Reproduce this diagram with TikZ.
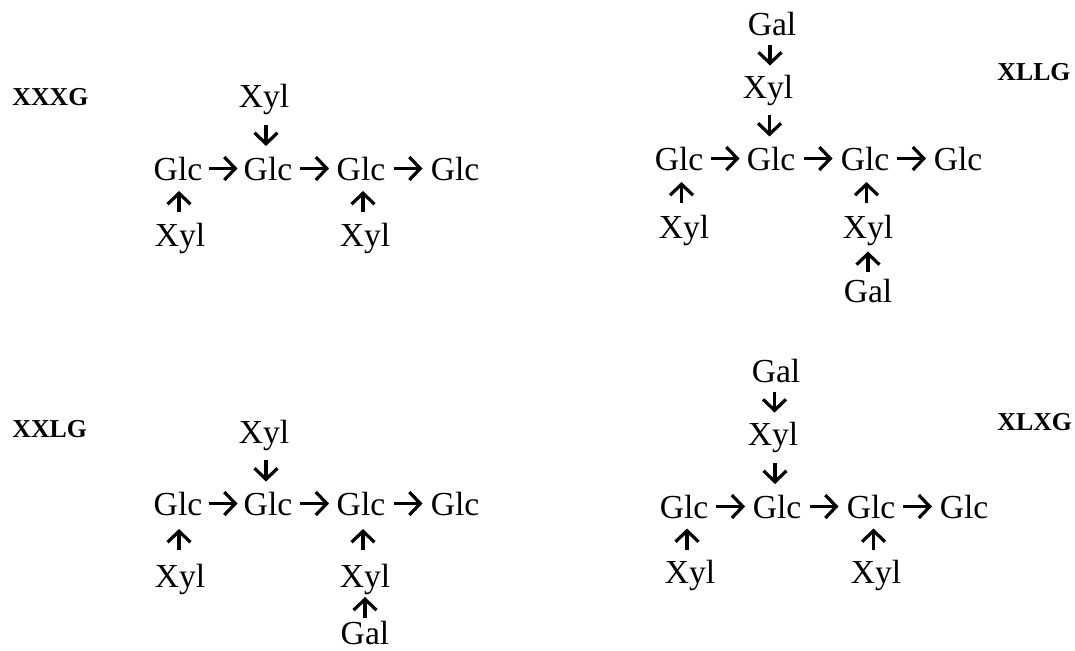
\documentclass[tikz,border=0pt]{standalone}
\usepackage{fontspec}
\setmainfont{Liberation Serif}
\usetikzlibrary{arrows.meta,calc}
\newcommand\hconn[2]{\draw[arr] ($(#1.east)!0.5!(#2.west)$) ++(-14.5,0) -- ++(29,0);}
\newcommand\dconn[2]{\draw[arr] ($(#1.south)!0.5!(#2.north)$) ++(0,-10.5) -- ++(0,21);}
\newcommand\uconn[2]{\draw[arr] ($(#1.north)!0.5!(#2.south)$) ++(0,10.5) -- ++(0,-21);}
\begin{document}
\begin{tikzpicture}[x=0.5pt,y=-0.5pt,
  sug/.style={inner sep=0pt,anchor=base,font=\fontsize{16.8}{19}\selectfont},
  lab/.style={inner sep=0pt,anchor=base west,font=\fontsize{12.9}{15}\selectfont\bfseries},
  arr/.style={line width=1.6pt,-{Straight Barb[length=5.5pt,width=11.5pt,line width=1.6pt]}}]
\useasboundingbox (0,0) rectangle (1075,650);

% ---------- Panel 1: XXXG ----------
\node[lab] (l1) at (12,105) {XXXG};
\node[sug] (a1) at (178,180) {Glc};
\node[sug] (a2) at (268,180) {Glc};
\node[sug] (a3) at (361,180) {Glc};
\node[sug] (a4) at (455,180) {Glc};
\node[sug] (ax) at (264,107) {Xyl};
\node[sug] (ab1) at (180,246) {Xyl};
\node[sug] (ab2) at (365,246) {Xyl};
\hconn{a1}{a2}\hconn{a2}{a3}\hconn{a3}{a4}
\dconn{ax}{a2}
\uconn{ab1}{a1}\uconn{ab2}{a3}

% ---------- Panel 2: XLLG ----------
\node[lab] (l2) at (997,80) {XLLG};
\node[sug] (b1) at (679,170) {Glc};
\node[sug] (b2) at (771,170) {Glc};
\node[sug] (b3) at (865,170) {Glc};
\node[sug] (b4) at (958,170) {Glc};
\node[sug] (bg) at (772,35) {Gal};
\node[sug] (bx) at (768,98) {Xyl};
\node[sug] (bb1) at (684,238) {Xyl};
\node[sug] (bb2) at (868,238) {Xyl};
\node[sug] (bbg) at (868,302) {Gal};
\hconn{b1}{b2}\hconn{b2}{b3}\hconn{b3}{b4}
\dconn{bg}{bx}\dconn{bx}{b2}
\uconn{bb1}{b1}\uconn{bb2}{b3}\uconn{bbg}{bb2}

% ---------- Panel 3: XXLG ----------
\node[lab] (l3) at (12,437) {XXLG};
\node[sug] (c1) at (178,515) {Glc};
\node[sug] (c2) at (268,515) {Glc};
\node[sug] (c3) at (361,515) {Glc};
\node[sug] (c4) at (455,515) {Glc};
\node[sug] (cx) at (264,443) {Xyl};
\node[sug] (cb1) at (180,587) {Xyl};
\node[sug] (cb2) at (365,587) {Xyl};
\node[sug] (cbg) at (365,644) {Gal};
\hconn{c1}{c2}\hconn{c2}{c3}\hconn{c3}{c4}
\dconn{cx}{c2}
\uconn{cb1}{c1}\uconn{cb2}{c3}\uconn{cbg}{cb2}

% ---------- Panel 4: XLXG ----------
\node[lab] (l4) at (997,430) {XLXG};
\node[sug] (d1) at (684,518) {Glc};
\node[sug] (d2) at (777,518) {Glc};
\node[sug] (d3) at (871,518) {Glc};
\node[sug] (d4) at (964,518) {Glc};
\node[sug] (dg) at (776,382) {Gal};
\node[sug] (dx) at (773,445) {Xyl};
\node[sug] (db1) at (690,583) {Xyl};
\node[sug] (db2) at (876,583) {Xyl};
\hconn{d1}{d2}\hconn{d2}{d3}\hconn{d3}{d4}
\dconn{dg}{dx}\dconn{dx}{d2}
\uconn{db1}{d1}\uconn{db2}{d3}
\end{tikzpicture}
\end{document}
